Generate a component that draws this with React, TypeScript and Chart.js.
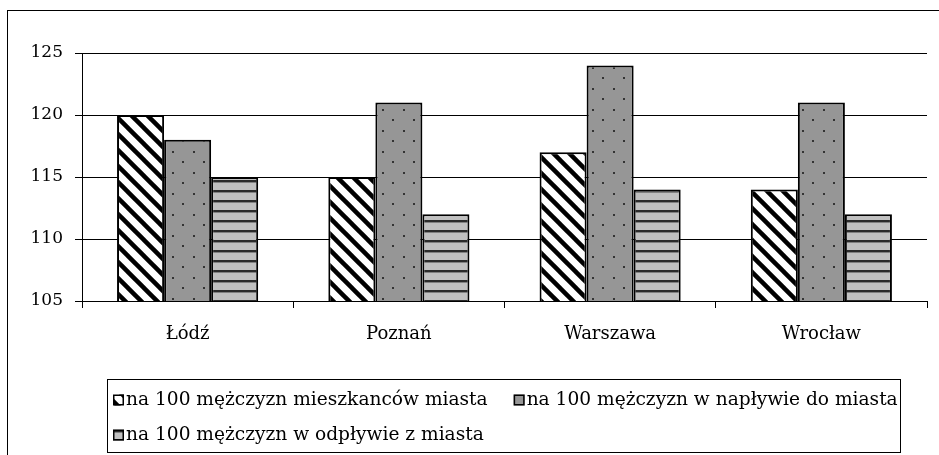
import React, { useEffect, useRef } from "react";
import { Chart, registerables } from "chart.js";

Chart.register(...registerables);

const categories = ["Łódź", "Poznań", "Warszawa", "Wrocław"];
const seriesLabels = [
  "na 100 mężczyzn mieszkanców miasta",
  "na 100 mężczyzn w napływie do miasta",
  "na 100 mężczyzn w odpływie z miasta",
];
const residents = [120, 115, 117, 114];
const inflow = [118, 121, 124, 121];
const outflow = [115, 112, 114, 112];
const yTicks = [105, 110, 115, 120, 125];

const FONT = "'DejaVu Serif', 'Liberation Serif', serif";

function makePattern(kind: string): CanvasPattern | string {
  const c = document.createElement("canvas");
  if (kind === "diag") {
    c.width = 16;
    c.height = 16;
    const g = c.getContext("2d")!;
    g.fillStyle = "#ffffff";
    g.fillRect(0, 0, 16, 16);
    g.strokeStyle = "#000000";
    g.lineWidth = 4.5;
    for (const k of [-16, 0, 16]) {
      g.beginPath();
      g.moveTo(-2, k - 2);
      g.lineTo(18, 18 + k);
      g.stroke();
    }
  } else if (kind === "dots") {
    c.width = 21;
    c.height = 21;
    const g = c.getContext("2d")!;
    g.fillStyle = "#969696";
    g.fillRect(0, 0, 21, 21);
    g.fillStyle = "#333333";
    g.fillRect(4, 4, 2, 2);
    g.fillRect(14, 14, 2, 2);
  } else {
    c.width = 10;
    c.height = 10;
    const g = c.getContext("2d")!;
    g.fillStyle = "#c0c0c0";
    g.fillRect(0, 0, 10, 10);
    g.fillStyle = "#2a2a2a";
    g.fillRect(0, 0, 10, 2);
    g.fillStyle = "#808080";
    g.fillRect(0, 2, 10, 1);
  }
  const p = c.getContext("2d")!.createPattern(c, "repeat");
  return p || "#999";
}

const framePlugin = {
  id: "outerFrame",
  beforeDraw(chart: any) {
    const ctx = chart.ctx;
    ctx.save();
    ctx.fillStyle = "#ffffff";
    ctx.fillRect(0, 0, chart.width, chart.height);
    ctx.strokeStyle = "#000000";
    ctx.lineWidth = 1;
    ctx.strokeRect(7.5, 10.5, 2000, 2000);
    ctx.restore();
  },
};

const legendPlugin = {
  id: "boxLegend",
  afterDraw(chart: any) {
    const ctx = chart.ctx;
    ctx.save();
    ctx.font = "18.6px " + FONT;
    ctx.textBaseline = "middle";
    ctx.textAlign = "left";
    const left = 107;
    const top = 379;
    const right = 900;
    const bottom = 452;
    ctx.strokeStyle = "#000000";
    ctx.lineWidth = 1;
    ctx.strokeRect(left + 0.5, top + 0.5, right - left, bottom - top);
    const rowY = [400, 435];
    let x = left + 6;
    let row = 0;
    chart.data.datasets.forEach((ds: any) => {
      const w = ctx.measureText(ds.label).width;
      const itemW = 13 + w;
      if (x + itemW > right - 2 && x > left + 6) {
        row++;
        x = left + 6;
      }
      const y = rowY[row];
      ctx.fillStyle = ds.backgroundColor;
      ctx.fillRect(x, y - 5.5, 11, 11);
      ctx.lineWidth = 1.5;
      ctx.strokeStyle = "#000000";
      ctx.strokeRect(x + 0.75, y - 4.75, 9.5, 9.5);
      ctx.fillStyle = "#000000";
      ctx.fillText(ds.label, x + 13, y);
      x += itemW + 26;
    });
    ctx.restore();
  },
};

export default function App() {
  const ref = useRef<HTMLCanvasElement | null>(null);
  useEffect(() => {
    if (!ref.current) return;
    const chart = new Chart(ref.current, {
      type: "bar",
      data: {
        labels: categories,
        datasets: [
          { label: seriesLabels[0], data: residents, backgroundColor: makePattern("diag") as any },
          { label: seriesLabels[1], data: inflow, backgroundColor: makePattern("dots") as any },
          { label: seriesLabels[2], data: outflow, backgroundColor: makePattern("hlines") as any },
        ].map((d) => ({
          ...d,
          borderColor: "#000000",
          borderWidth: 2,
          borderSkipped: "bottom" as const,
          categoryPercentage: 0.668,
          barPercentage: 1.0,
        })),
      },
      options: {
        responsive: false,
        animation: false,
        layout: { padding: { left: 0, right: 12, top: 53, bottom: 0 } },
        plugins: {
          legend: { display: false },
          tooltip: { enabled: false },
          title: { display: false },
        },
        scales: {
          x: {
            grid: {
              offset: true,
              drawOnChartArea: false,
              drawTicks: true,
              tickLength: 7,
              tickColor: "#000000",
              color: "#000000",
            },
            border: { color: "#000000", width: 1 },
            ticks: {
              color: "#000000",
              font: { family: FONT, size: 18 },
              padding: 16,
            },
            afterFit: (s: any) => {
              s.height = 154;
            },
          },
          y: {
            min: yTicks[0],
            max: yTicks[yTicks.length - 1],
            afterBuildTicks: (s: any) => {
              s.ticks = yTicks.map((v) => ({ value: v }));
            },
            grid: {
              color: "#000000",
              lineWidth: 1,
              drawTicks: true,
              tickLength: 7,
              tickColor: "#000000",
            },
            border: { color: "#000000", width: 1 },
            ticks: {
              color: "#000000",
              font: { family: FONT, size: 17 },
              padding: 12,
            },
            afterFit: (s: any) => {
              s.width = 82;
            },
          },
        },
      },
      plugins: [framePlugin, legendPlugin],
    });
    return () => chart.destroy();
  }, []);
  return (
    <div style={{ position: "fixed", left: 0, top: 0, width: 939, height: 455, background: "#fff" }}>
      <canvas ref={ref} width={939} height={455} style={{ display: "block", width: 939, height: 455 }} />
    </div>
  );
}
